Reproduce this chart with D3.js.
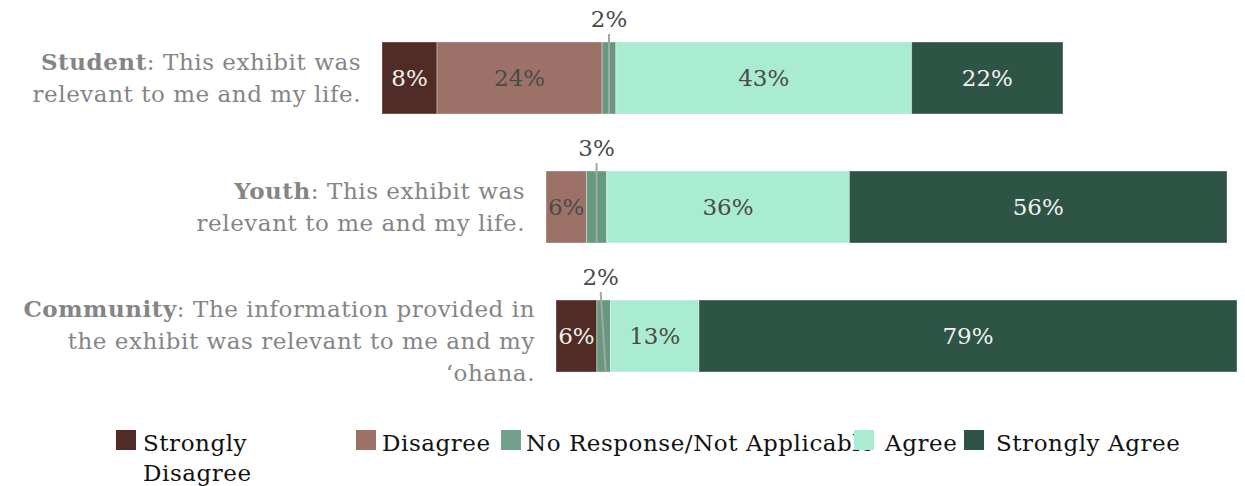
<!DOCTYPE html>
<html><head><meta charset="utf-8">
<script src="https://cdn.jsdelivr.net/npm/d3@7"></script>
<style>
html,body{margin:0;padding:0;background:#fff;}
svg{display:block;font-family:"DejaVu Serif",serif;}
</style></head>
<body><svg id="chart" width="1245" height="486"></svg>
<script>
// ---- data ----
const categories = ["Strongly Disagree","Disagree","No Response/Not Applicable","Agree","Strongly Agree"];
const rowsKeys = ["Student","Youth","Community"];
const studentValues   = [8, 24, 2, 43, 22];
const youthValues     = [0, 6, 3, 36, 56];
const communityValues = [6, 0, 2, 13, 79];
const rowBold = ["Student","Youth","Community"];
const rowText = [
  [": This exhibit was", "relevant to me and my life."],
  [": This exhibit was", "relevant to me and my life."],
  [": The information provided in", "the exhibit was relevant to me and my", "\u2018ohana."]
];
const colors = ["#512b25","#9c7168","#67997f","#aaecd2","#2e5446"];
const legendColors = ["#512b25","#9c7168","#72a08c","#aaecd2","#2e5446"];
const labelColors = ["#f4f0ee","#4a4a4a","#4a4a4a","#4a4a4a","#f2f2f2"];

// ---- layout ----
const W = 1245, H = 486;
const barStart = [382, 546, 556];
const barLen = 681;
const labelGap = 21;
const legendSwatchX = [116, 356, 501, 854, 964];
const legendTextDx = [27, 26, 25, 31, 32];
const FS = 23;
const LS = "0.55px";

const svg = d3.select("#chart");
const allValues = [studentValues, youthValues, communityValues];

const y = d3.scaleBand().domain(rowsKeys).range([42, 372]).paddingInner(0.442).paddingOuter(0);

rowsKeys.forEach((key, i) => {
  const vals = allValues[i];
  const total = d3.sum(vals);
  const x = d3.scaleLinear().domain([0, total]).range([barStart[i], barStart[i] + barLen]);
  const stack = [];
  let acc = 0;
  vals.forEach((v, j) => { stack.push({j, v, x0: acc, x1: acc + v}); acc += v; });
  const seg = stack.filter(d => d.v > 0);
  const g = svg.append("g");
  const y0 = y(key), bh = y.bandwidth();

  g.selectAll("rect").data(seg).join("rect")
    .attr("x", d => x(d.x0)).attr("y", y0)
    .attr("width", d => x(d.x1) - x(d.x0)).attr("height", bh)
    .attr("fill", d => colors[d.j])
    .attr("stroke", "rgba(255,255,255,0.35)").attr("stroke-width", 1);

  // inside labels
  g.selectAll("text.in").data(seg.filter(d => d.v >= 4)).join("text")
    .attr("class","in")
    .attr("x", d => (x(d.x0) + x(d.x1)) / 2)
    .attr("y", y0 + bh / 2 + 8)
    .attr("text-anchor","middle")
    .attr("font-size", FS)
    .attr("fill", d => labelColors[d.j])
    .text(d => d.v + "%");

  // outside labels with leader
  seg.filter(d => d.v < 4).forEach(d => {
    const cx = (x(d.x0) + x(d.x1)) / 2;
    const lx = cx - (i === 2 ? 3 : 0);
    g.append("line")
      .attr("x1", lx).attr("y1", y0 - 8)
      .attr("x2", cx + (i === 2 ? 2 : 0)).attr("y2", y0 + bh)
      .attr("stroke", "#a6a6a6").attr("stroke-width", 2);
    g.append("text")
      .attr("x", lx).attr("y", y0 - 15)
      .attr("text-anchor","middle")
      .attr("font-size", FS)
      .attr("fill", "#4a4a4a")
      .text(d.v + "%");
  });

  // category label
  const lines = rowText[i];
  const lh = 32;
  const cy = y0 + bh / 2 + (lines.length === 3 ? 5 : 0);
  const firstBase = cy - (lines.length - 1) * lh / 2 + 8;
  const t = g.append("text")
    .attr("text-anchor","end")
    .attr("font-size", FS)
    .attr("letter-spacing", LS)
    .attr("fill", "#858585");
  lines.forEach((ln, k) => {
    const ts = t.append("tspan").attr("x", barStart[i] - labelGap).attr("y", firstBase + k * lh);
    if (k === 0) {
      ts.append("tspan").attr("font-weight","bold").text(rowBold[i]);
      ts.append("tspan").text(ln);
    } else ts.text(ln);
  });
});

// legend
const lg = svg.append("g");
categories.forEach((c, j) => {
  const gx = legendSwatchX[j];
  const words = j === 0 ? ["Strongly","Disagree"] : [c];
  const tx = lg.append("text").attr("font-size", FS).attr("letter-spacing", LS).attr("fill", "#111");
  words.forEach((w, k) => tx.append("tspan").attr("x", gx + legendTextDx[j]).attr("y", 451 + k * 30).text(w));
  lg.append("rect").attr("x", gx).attr("y", 430).attr("width", 20).attr("height", 20).attr("fill", legendColors[j]);
});
</script></body></html>
